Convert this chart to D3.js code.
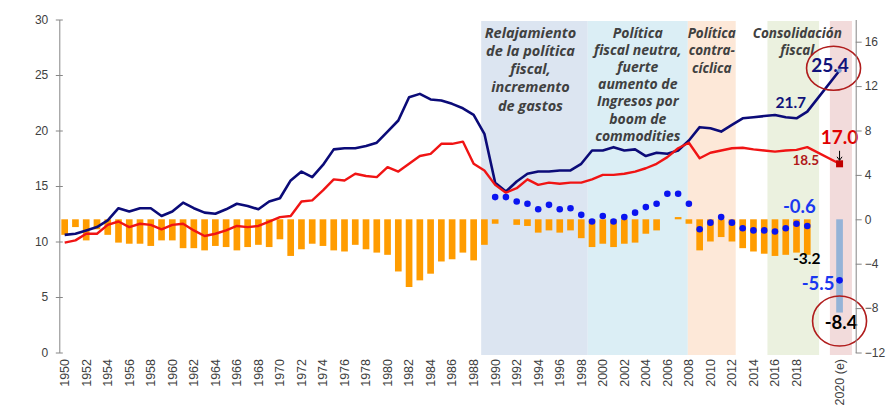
<!DOCTYPE html>
<html><head><meta charset="utf-8">
<script src="https://cdn.jsdelivr.net/npm/d3@7"></script>
<style>body{margin:0;background:#fff}svg{display:block}</style>
</head><body><svg id="c" width="889" height="413"></svg>
<script>
// ---------- DATA ----------
const categories = d3.range(1950, 2020).map(String).concat(["", "", "2020 (e)", ""]);
const tickLabels = categories.filter((c, i) => (i < 70 && i % 2 === 0) || c === "2020 (e)");

// Gasto (left axis, % PIB)
const gasto = [10.6,10.7,11.0,11.3,11.9,13.0,12.7,13.0,13.0,12.3,
  12.7,13.5,13.0,12.6,12.5,12.9,13.4,13.2,12.9,13.6,
  13.9,15.5,16.3,15.8,16.9,18.3,18.4,18.4,18.6,18.9,
  19.9,20.9,23.0,23.3,22.8,22.7,22.4,22.0,21.4,19.7,
  15.3,14.5,15.4,16.1,16.3,16.3,16.4,16.4,17.0,18.2,
  18.2,18.5,18.2,18.3,17.7,18.0,17.9,18.2,19.1,20.3,
  20.2,19.9,20.5,21.1,21.2,21.3,21.4,21.2,21.1,21.7,
  null,null,25.4,null];
// Ingresos (left axis, % PIB)
const ingresos = [9.9,10.1,10.7,10.7,11.5,11.8,11.3,11.6,11.5,11.1,
  11.5,11.6,11.0,10.5,10.7,11.0,11.4,11.3,11.4,11.8,
  12.2,12.3,13.6,13.7,14.6,15.6,15.5,16.1,15.9,15.8,
  16.7,16.3,17.0,17.7,17.9,18.8,18.8,19.0,17.0,16.4,
  15.1,14.4,14.8,15.6,15.1,15.3,15.2,15.3,15.3,15.6,
  16.0,16.0,16.1,16.3,16.6,17.0,17.6,18.4,18.9,17.5,
  18.0,18.2,18.4,18.45,18.3,18.2,18.1,18.2,18.25,18.5,
  null,null,17.0,null];
// Resultado fiscal (right axis)
const balance = [-1.4,-0.7,-1.9,-0.9,-1.4,-2.1,-2.2,-2.2,-2.4,-1.9,
  -1.9,-2.6,-2.6,-2.8,-2.4,-2.5,-2.8,-2.5,-2.3,-2.5,
  -1.8,-3.3,-2.7,-2.2,-2.4,-2.8,-2.9,-2.3,-2.7,-3.0,
  -3.2,-4.7,-6.1,-5.5,-4.9,-3.8,-3.6,-3.0,-3.7,-2.3,
  -0.4,0,-0.5,-0.6,-1.2,-1.0,-1.2,-1.0,-1.7,-2.5,
  -2.2,-2.5,-2.2,-2.1,-1.3,-1.0,0,0.2,-0.4,-2.8,
  -2.0,-1.6,-2.0,-2.6,-2.9,-3.1,-3.3,-3.2,-3.0,-3.2,
  null,null,null,null];
const balance2020 = -8.4;
// Resultado primario (right axis, dots)
const primario = [].concat(new Array(40).fill(null), [
  2.0,2.0,1.6,1.4,0.9,1.3,0.9,1.0,0.4,-0.2,
  0.3,-0.2,0.2,0.6,1.1,1.4,2.3,2.3,1.4,-0.9,
  -0.3,0.2,-0.3,-0.8,-1.0,-1.0,-1.1,-0.8,-0.4,-0.6,
  null,null,-5.5,null]);
const leftTicks = [0,5,10,15,20,25,30];
const rightTicks = [-12,-8,-4,0,4,8,12,16];
// Periods (category index positions)
const periodFrom = [38.7, 48.6, 57.9, 65.3, 71.1];
const periodTo   = [48.6, 57.9, 62.35, 70.1, 73.15];
const periodText = [
  ["Relajamiento","de la política","fiscal,","incremento","de gastos"],
  ["Política","fiscal neutra,","fuerte","aumento de","Ingresos por","boom de","commodities"],
  ["Política","contra-","cíclica"],
  ["Consolidación","fiscal"],
  []
];
const periodColor = ["#dce5f1","#dbeef5","#fde8d8","#ebf1df","#f2dbdb"];

// ---------- CHART ----------
const svg = d3.select("#c");
const plotTop = 19.5, plotBottom = 352.5, plotLeft = 59.3, plotRight = 855.7;
const n = categories.length;
const x = d3.scaleBand().domain(d3.range(n)).range([plotLeft, plotRight]).padding(0);
const bw = x.bandwidth();
const cx = i => x(i) + bw / 2;
const pos = d3.scaleLinear().domain([0, n - 1]).range([cx(0), cx(n - 1)]);
const yL = d3.scaleLinear().domain([0, 30]).range([plotBottom, plotTop]);
const yR = d3.scaleLinear().domain([-12, 18]).range([plotBottom, plotTop]);

// period bands
const periods = periodFrom.map((f, k) => ({f, t: periodTo[k], text: periodText[k], color: periodColor[k], k}));
svg.append("g").selectAll("rect").data(periods).join("rect")
  .attr("x", d => pos(d.f)).attr("width", d => pos(d.t) - pos(d.f))
  .attr("y", 21).attr("height", 334).attr("fill", d => d.color);

const textSize = [14.5, 14, 13.5, 13.5];
const textStep = [18.3, 17.2, 17.6, 17.6];
const textDx = [-4, 0, 0, 4];
periods.forEach(p => {
  if (!p.text.length) return;
  const t = svg.append("text")
    .attr("font-family", "'Open Sans', sans-serif")
    .attr("font-weight", "bold").attr("font-style", "italic")
    .attr("font-size", textSize[p.k]).attr("fill", "#404040")
    .attr("text-anchor", "middle");
  p.text.forEach((line, j) => {
    t.append("tspan").attr("x", (pos(p.f) + pos(p.t)) / 2 + textDx[p.k])
      .attr("y", 37.5 + j * textStep[p.k]).text(line);
  });
});

// bars
const barW = bw * 0.62;
const barData = balance.map((v, i) => ({i, v})).filter(d => d.v !== null && d.v !== 0);
svg.append("g").selectAll("rect").data(barData).join("rect")
  .attr("x", d => cx(d.i) - barW / 2).attr("width", barW)
  .attr("y", d => yR(Math.max(0, d.v)))
  .attr("height", d => Math.abs(yR(d.v) - yR(0)))
  .attr("fill", "#ff9c00");
const idx2020 = categories.indexOf("2020 (e)");
svg.append("rect").attr("x", cx(idx2020) - barW / 2).attr("width", barW)
  .attr("y", yR(0)).attr("height", yR(balance2020) - yR(0)).attr("fill", "#95b3d7");

// lines
const lineGen = d3.line().x(d => cx(d.i)).y(d => yL(d.v));
const toPts = arr => arr.map((v, i) => ({i, v})).filter(d => d.v !== null);
svg.append("path").attr("d", lineGen(toPts(gasto))).attr("fill", "none")
  .attr("stroke", "#0b0b78").attr("stroke-width", 2.6).attr("stroke-linejoin", "round");
svg.append("path").attr("d", lineGen(toPts(ingresos))).attr("fill", "none")
  .attr("stroke", "#f01414").attr("stroke-width", 2.4).attr("stroke-linejoin", "round");

// dots
svg.append("g").selectAll("circle").data(toPts(primario)).join("circle")
  .attr("cx", d => cx(d.i)).attr("cy", d => yR(d.v)).attr("r", 3.3).attr("fill", "#0a14f0");

// markers at 2020
svg.append("circle").attr("cx", cx(idx2020)).attr("cy", yL(gasto[idx2020])).attr("r", 2.2).attr("fill", "#7f9fd6");
svg.append("rect").attr("x", cx(idx2020) - 3.5).attr("y", yL(ingresos[idx2020]) - 3.5)
  .attr("width", 7).attr("height", 7).attr("fill", "#c00000");

// annotations
const i2019 = categories.indexOf("2019");
function label(txt, px, py, size, color) {
  svg.append("text").attr("x", px).attr("y", py).attr("text-anchor", "middle")
    .attr("font-family", "Lato, sans-serif").attr("font-weight", "bold")
    .attr("font-size", size).attr("fill", color).text(txt);
}
label(gasto[idx2020].toFixed(1), cx(idx2020) - 9.5, yL(gasto[idx2020]) + 1, 19, "#10127a");
label(gasto[i2019].toFixed(1), cx(i2019) - 16.5, yL(gasto[i2019]) - 3.5, 15.5, "#10127a");
label(ingresos[idx2020].toFixed(1), cx(idx2020), yL(ingresos[idx2020]) - 20, 19, "#e00000");
label(ingresos[i2019].toFixed(1), cx(i2019) - 1.5, yL(ingresos[i2019]) + 18, 13.5, "#b01818");
label(primario[i2019].toFixed(1), cx(i2019) - 8, yR(primario[i2019]) - 13, 18.5, "#1a38f0");
label(balance[i2019].toFixed(1), cx(i2019) - 0.5, yR(balance[i2019]) + 9.5, 15.5, "#000");
label(primario[idx2020].toFixed(1), cx(idx2020) - 21.5, yR(primario[idx2020]) + 10, 18.5, "#1a38f0");
label(balance2020.toFixed(1), cx(idx2020) + 1.5, yR(balance2020) + 16.5, 18.5, "#000");

// circles around key values
svg.append("ellipse").attr("cx", cx(idx2020) - 6).attr("cy", yL(gasto[idx2020]) - 2.3)
  .attr("rx", 27).attr("ry", 22).attr("fill", "none").attr("stroke", "#b01c1c").attr("stroke-width", 1.6);
svg.append("ellipse").attr("cx", cx(idx2020)).attr("cy", yR(balance2020) + 8.5)
  .attr("rx", 27).attr("ry", 25).attr("fill", "none").attr("stroke", "#b01c1c").attr("stroke-width", 1.6);

// small arrow to 17.0
const ay = yL(ingresos[idx2020]);
svg.append("line").attr("x1", cx(idx2020)).attr("x2", cx(idx2020)).attr("y1", ay - 13).attr("y2", ay - 4)
  .attr("stroke", "#000").attr("stroke-width", 1);
svg.append("path").attr("d", `M${cx(idx2020) - 2.5},${ay - 7} L${cx(idx2020)},${ay - 3.5} L${cx(idx2020) + 2.5},${ay - 7}`)
  .attr("fill", "none").attr("stroke", "#000").attr("stroke-width", 1);

// axes
const axisColor = "#868686", tickText = "#404040";
const gl = svg.append("g").attr("transform", `translate(${plotLeft},0)`)
  .call(d3.axisLeft(yL).tickValues(leftTicks).tickSizeInner(4).tickSizeOuter(0).tickPadding(7));
gl.selectAll(".tick line").attr("x1", 3.5).attr("x2", -3.5);
const gr = svg.append("g").attr("transform", `translate(${plotRight},0)`)
  .call(d3.axisRight(yR).tickValues(rightTicks).tickSizeInner(6).tickSizeOuter(0).tickPadding(3));
[gl, gr].forEach(g => {
  g.select(".domain").attr("stroke", axisColor);
  g.selectAll(".tick line").attr("stroke", axisColor);
  g.selectAll("text").attr("fill", tickText).attr("font-size", 12)
    .attr("font-family", "'Liberation Sans', Arial, sans-serif");
});

// x labels
svg.append("g").selectAll("text")
  .data(categories.map((c, i) => ({c, i})).filter(d => tickLabels.includes(d.c) && d.c !== ""))
  .join("text")
  .attr("transform", d => `translate(${cx(d.i)},359) rotate(-90)`)
  .attr("text-anchor", "end").attr("dy", "0.35em")
  .attr("font-family", "'Liberation Sans', Arial, sans-serif").attr("font-size", 12.5)
  .attr("fill", tickText).text(d => d.c);
</script></body></html>
